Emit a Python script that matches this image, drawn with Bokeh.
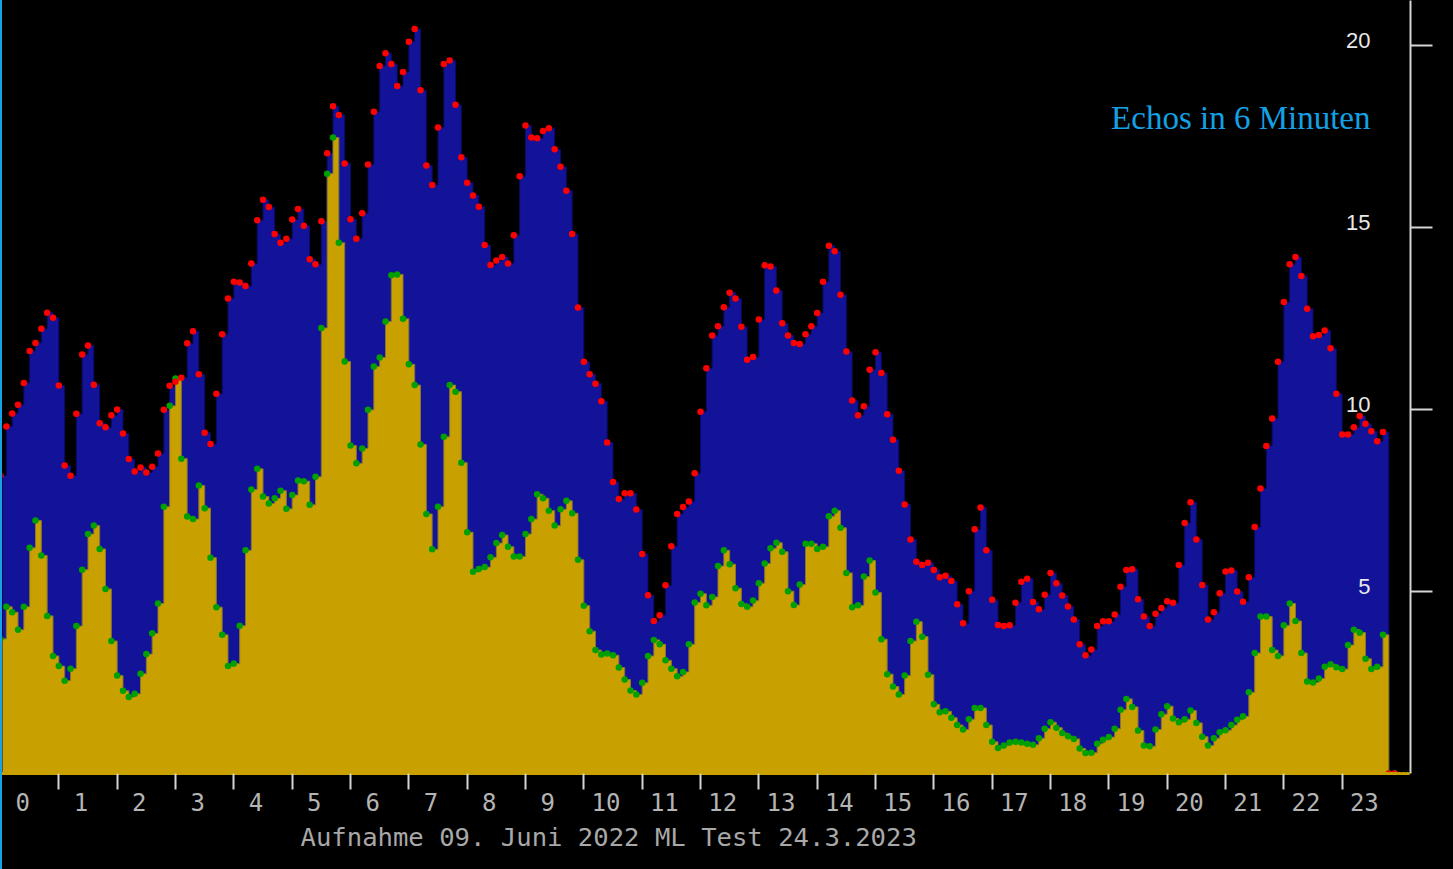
from bokeh.plotting import figure
from bokeh.models import (Range1d, FixedTicker, LinearAxis, Title,
                          ColumnDataSource, CustomJSTickFormatter)
from bokeh.embed import file_html
from bokeh.resources import INLINE
from bokeh.core.properties import value

# ---------------- data (one row = one hour, 10 bins of 6 minutes) ----------------
bins_per_hour = 10
hours = list(range(24))
hour_labels = [str(h) for h in hours]

echos_total = [
    8.19, 9.53, 9.89, 10.13, 10.73, 11.61, 11.83, 12.22, 12.66, 12.52,
    10.66, 8.46, 8.18, 9.88, 11.51, 11.76, 10.68, 9.62, 9.51, 9.84,
    10.00, 9.34, 8.64, 8.30, 8.41, 8.27, 8.43, 8.79, 9.99, 10.65,
    10.76, 10.87, 11.82, 12.15, 10.97, 9.36, 9.05, 10.43, 12.07, 13.05,
    13.51, 13.49, 13.39, 14.01, 15.20, 15.76, 15.56, 14.82, 14.58, 14.69,
    15.22, 15.51, 15.05, 14.13, 13.99, 15.17, 17.04, 18.33, 18.09, 16.76,
    15.23, 14.69, 15.39, 16.73, 18.18, 19.44, 19.79, 19.49, 18.89, 19.27,
    20.10, 20.45, 18.77, 16.70, 16.17, 17.75, 19.49, 19.59, 18.37, 16.93,
    16.23, 15.88, 15.57, 14.52, 13.97, 14.09, 14.19, 14.01, 14.79, 16.41,
    17.80, 17.47, 17.45, 17.65, 17.73, 17.15, 16.67, 16.01, 14.82, 12.80,
    11.31, 10.97, 10.71, 10.23, 9.09, 8.01, 7.54, 7.70, 7.70, 7.25,
    6.03, 4.90, 4.19, 4.35, 5.17, 6.24, 7.13, 7.32, 7.47, 8.25,
    9.94, 11.13, 12.03, 12.29, 12.81, 13.21, 13.05, 12.27, 11.37, 11.44,
    12.47, 13.96, 13.93, 13.27, 12.37, 12.03, 11.83, 11.80, 12.07, 12.29,
    12.65, 13.51, 14.50, 14.35, 13.15, 11.59, 10.25, 9.84, 10.09, 11.09,
    11.57, 11.00, 9.87, 9.17, 8.32, 7.39, 6.43, 5.82, 5.73, 5.79,
    5.59, 5.39, 5.43, 5.29, 4.65, 4.13, 5.01, 6.71, 7.31, 6.13,
    4.77, 4.08, 4.05, 4.07, 4.69, 5.27, 5.35, 4.71, 4.51, 4.91,
    5.51, 5.23, 4.89, 4.59, 4.23, 3.55, 3.25, 3.41, 4.05, 4.18,
    4.18, 4.37, 5.13, 5.59, 5.61, 4.79, 4.31, 4.05, 4.39, 4.55,
    4.73, 4.69, 5.73, 6.88, 7.45, 6.43, 5.18, 4.23, 4.43, 4.95,
    5.55, 5.58, 5.00, 4.72, 5.39, 6.77, 7.83, 9.00, 9.75, 11.31,
    12.95, 13.99, 14.19, 13.67, 12.77, 12.01, 12.05, 12.17, 11.68, 10.43,
    9.31, 9.31, 9.51, 9.82, 9.61, 9.40, 9.13, 9.38, 0.00, 0.00,
]

echos_subset = [
    3.70, 4.58, 4.43, 3.95, 4.58, 6.20, 6.95, 5.99, 4.33, 3.23,
    2.95, 2.55, 2.88, 4.05, 5.60, 6.58, 6.81, 6.17, 5.07, 3.64,
    2.69, 2.27, 2.10, 2.19, 2.74, 3.28, 3.85, 4.67, 7.33, 10.10,
    10.85, 8.65, 7.06, 6.99, 7.91, 7.29, 5.93, 4.57, 3.81, 2.95,
    3.02, 4.06, 6.13, 7.80, 8.37, 7.61, 7.42, 7.56, 7.77, 7.27,
    7.65, 8.05, 8.03, 7.38, 8.15, 12.24, 16.48, 17.47, 14.58, 11.32,
    9.01, 8.52, 8.93, 9.99, 11.18, 11.43, 12.42, 13.69, 13.71, 12.49,
    11.24, 10.67, 9.04, 7.13, 6.16, 7.33, 9.25, 10.67, 10.49, 8.54,
    6.63, 5.54, 5.62, 5.67, 5.94, 6.33, 6.55, 6.23, 5.96, 5.96,
    6.58, 6.99, 7.67, 7.56, 7.22, 6.81, 7.26, 7.49, 7.15, 5.87,
    4.61, 3.91, 3.39, 3.27, 3.30, 3.25, 2.91, 2.58, 2.28, 2.17,
    2.49, 3.23, 3.67, 3.55, 3.11, 2.88, 2.67, 2.79, 3.55, 4.70,
    4.94, 4.62, 4.85, 5.70, 6.13, 5.75, 5.09, 4.66, 4.58, 4.75,
    5.23, 5.77, 6.19, 6.34, 6.09, 5.01, 4.63, 5.19, 6.31, 6.31,
    6.17, 6.23, 7.07, 7.22, 6.75, 5.51, 4.57, 4.62, 5.41, 5.85,
    4.97, 3.69, 2.73, 2.39, 2.17, 2.69, 3.64, 4.17, 3.76, 2.71,
    1.90, 1.68, 1.71, 1.53, 1.33, 1.21, 1.49, 1.80, 1.80, 1.33,
    0.87, 0.70, 0.77, 0.85, 0.87, 0.85, 0.82, 0.79, 0.97, 1.23,
    1.41, 1.26, 1.11, 1.02, 0.95, 0.69, 0.56, 0.57, 0.82, 0.93,
    1.00, 1.23, 1.75, 2.05, 1.83, 1.18, 0.77, 0.75, 1.21, 1.63,
    1.85, 1.51, 1.41, 1.49, 1.73, 1.39, 1.01, 0.77, 0.97, 1.13,
    1.19, 1.33, 1.48, 1.57, 2.23, 3.31, 4.31, 4.31, 3.39, 3.23,
    4.07, 4.67, 4.19, 3.31, 2.53, 2.50, 2.61, 2.93, 3.00, 2.92,
    2.87, 3.53, 3.95, 3.87, 3.15, 2.87, 2.93, 3.81, 0.00, 0.00,
]

y_ticks = [5, 10, 15, 20]
y_tick_labels = ["5", "10", "15", "20"]
title_text = "Echos in 6 Minuten"
footer_text = "Aufnahme 09. Juni 2022 ML Test 24.3.2023"

# ---------------- layout constants ----------------
PX_PER_HOUR = 1400 / 24
PX_PER_UNIT = 36.4
FRAME_W = 1408
FRAME_H = 773
X0 = 2 / PX_PER_HOUR
X1 = X0 + FRAME_W / PX_PER_HOUR
Y1 = FRAME_H / PX_PER_UNIT
LABEL_SHIFT = 0.38

BLUE = "#131399"
GOLD = "#c8a000"
GRAY = "#d4d4d4"

x = [i / bins_per_hour for i in range(len(echos_total))]
src = ColumnDataSource(dict(x=x, total=echos_total, sub=echos_subset,
                            zero=[0.0] * len(x)))

p = figure(frame_width=FRAME_W, frame_height=FRAME_H,
           x_range=Range1d(X0, X1), y_range=Range1d(0, Y1),
           output_backend="svg", toolbar_location=None,
           x_axis_location=None, y_axis_location=None,
           min_border_left=0, min_border_top=0, min_border_right=43,
           min_border_bottom=10,
           background_fill_color="black", border_fill_color="black",
           outline_line_color=None)
p.grid.visible = False

# areas
p.varea_step(x="x", y1="zero", y2="total", step_mode="after", source=src,
             fill_color=BLUE)
p.step(x="x", y="total", mode="after", source=src, line_color="#0a0a66",
       line_width=1)
p.varea_step(x="x", y1="zero", y2="sub", step_mode="after", source=src,
             fill_color=GOLD)
p.step(x="x", y="sub", mode="after", source=src, line_color="#85762e",
       line_width=1)

# dots
p.scatter(x="x", y="sub", source=src, size=6.5, marker="circle",
          fill_color="#00a000", line_color=None)
p.scatter(x="x", y="total", source=src, size=6.5, marker="circle",
          fill_color="#ff0000", line_color=None)

# bottom axis: labels at major ticks (shifted), hour marks as minor ticks
xaxis = LinearAxis(
    ticker=FixedTicker(ticks=[h + LABEL_SHIFT for h in hours],
                       minor_ticks=hours[1:]),
    formatter=CustomJSTickFormatter(args=dict(labels=hour_labels),
                                    code="return labels[Math.round(tick - 0.38)]"))
xaxis.axis_line_color = GOLD
xaxis.axis_line_width = 3
xaxis.axis_line_dash = "2 2"
xaxis.axis_line_cap = "round"
xaxis.major_tick_line_color = None
xaxis.major_tick_out = 0
xaxis.major_tick_in = 0
xaxis.minor_tick_line_color = GRAY
xaxis.minor_tick_line_width = 2
xaxis.minor_tick_out = 16
xaxis.minor_tick_in = 0
xaxis.major_label_text_color = "#b4b4b4"
xaxis.major_label_text_font = "DejaVu Sans Mono"
xaxis.major_label_text_font_size = "24px"
xaxis.major_label_standoff = 3
p.add_layout(xaxis, "below")

# right axis: line and outward tick marks (labels are drawn inside the frame)
yaxis = LinearAxis(ticker=FixedTicker(ticks=[], minor_ticks=y_ticks))
yaxis.axis_line_color = GRAY
yaxis.axis_line_width = 2
yaxis.major_tick_line_color = None
yaxis.minor_tick_line_color = GRAY
yaxis.minor_tick_line_width = 2
yaxis.minor_tick_out = 22
yaxis.minor_tick_in = 0
p.add_layout(yaxis, "right")

p.text(x=[X1] * len(y_ticks), y=y_ticks, text=y_tick_labels,
       x_offset=-40, y_offset=-5, text_align="right", text_baseline="middle",
       text_color="#e8e8e8", text_font=value("Liberation Sans"),
       text_font_size="22px")

p.text(x=[X1], y=[18.0], text=[title_text], x_offset=-40,
       text_align="right", text_baseline="middle", text_color="#14a0e4",
       text_font=value("Liberation Serif"), text_font_size="33px")

footer = Title(text=footer_text, align="left", offset=298,
               text_font="DejaVu Sans Mono", text_font_size="25.6px",
               text_font_style="normal", text_color="#a8a8a8", standoff=12)
p.add_layout(footer, "below")

html = file_html(p, INLINE)
style = ("<style>html,body{margin:0;padding:0;background:#000;}"
         "body{border-left:2px solid #17a2e6;}</style></head>")
html = html.replace("</head>", style, 1)
open("out.html", "w").write(html)
